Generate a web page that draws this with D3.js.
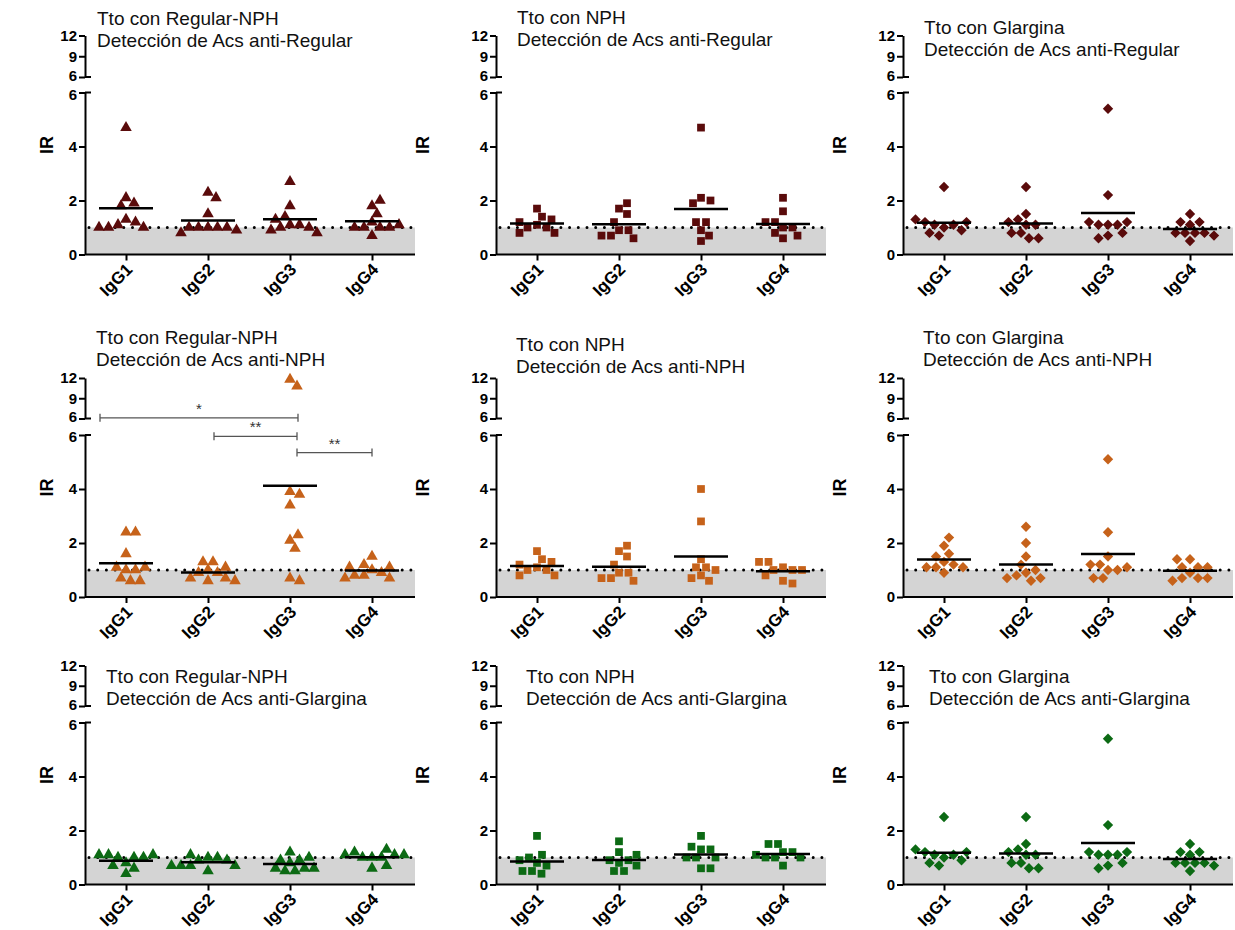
<!DOCTYPE html>
<html>
<head>
<meta charset="utf-8">
<script src="https://cdn.jsdelivr.net/npm/d3@7"></script>
<style>
  body { margin: 0; background: #fff; }
  text { font-family: "Liberation Sans", Arial, sans-serif; }
</style>
</head>
<body>
<script>
var categories = ['IgG1', 'IgG2', 'IgG3', 'IgG4'];
var treatments = ['Tto con Regular-NPH', 'Tto con NPH', 'Tto con Glargina'];
var detections = ['Detección de Acs anti-Regular', 'Detección de Acs anti-NPH', 'Detección de Acs anti-Glargina'];
var upperTicks = [6, 9, 12];
var lowerTicks = [0, 2, 4, 6];
var cutoff = 1;

// IR values, one array per IgG subclass
var antiRegular_RegularNph = [
  [4.7, 1.9, 1.8, 2.1, 1.2, 1.0, 1.0, 1.0, 1.1, 1.3],
  [2.1, 2.3, 1.5, 1.0, 1.0, 1.0, 0.8, 0.9, 1.0, 1.0],
  [2.7, 1.8, 1.4, 1.3, 1.1, 1.0, 0.8, 0.9, 1.0, 1.1],
  [1.8, 2.0, 1.5, 1.0, 1.0, 0.7, 1.2, 1.0, 1.0, 1.1]
];
var antiRegular_Nph = [
  [1.7, 1.3, 1.4, 1.1, 1.0, 1.2, 1.0, 0.8, 0.8],
  [1.7, 1.5, 1.9, 1.2, 0.9, 0.7, 0.6, 0.7, 0.9],
  [4.7, 2.1, 1.9, 2.0, 1.2, 1.2, 0.9, 0.7, 0.5],
  [2.1, 1.6, 1.2, 1.2, 0.8, 1.0, 1.0, 0.6, 0.7]
];
var antiRegular_Glargina = [
  [2.5, 1.1, 1.2, 1.2, 1.3, 0.9, 0.7, 0.8, 1.0, 1.1],
  [2.5, 1.3, 1.5, 1.1, 1.1, 1.2, 0.8, 0.6, 0.6, 0.8],
  [5.4, 2.2, 1.2, 1.1, 1.1, 1.1, 1.2, 0.8, 0.6, 0.7],
  [1.5, 1.2, 1.2, 1.1, 0.8, 0.8, 0.5, 0.7, 0.8, 0.8]
];
var antiNph_RegularNph = [
  [2.4, 2.4, 1.6, 1.1, 1.1, 1.0, 1.0, 0.7, 0.6, 0.6],
  [1.3, 1.3, 1.1, 1.0, 0.9, 0.7, 0.6, 0.6, 0.7, 0.9],
  [11.8, 10.8, 3.8, 3.9, 3.4, 2.1, 2.3, 1.8, 0.6, 0.7],
  [1.5, 1.1, 1.2, 1.1, 0.8, 0.9, 0.7, 0.7, 0.8, 1.0]
];
var antiNph_Nph = [
  [1.7, 1.3, 1.4, 1.1, 1.0, 1.2, 1.0, 0.8, 0.8],
  [1.7, 1.5, 1.9, 1.2, 0.9, 0.7, 0.6, 0.7, 0.9],
  [4.0, 2.8, 1.4, 1.1, 1.1, 0.8, 1.0, 0.6, 0.7],
  [1.3, 1.3, 1.1, 1.0, 1.0, 1.0, 0.8, 0.5, 0.6]
];
var antiNph_Glargina = [
  [2.2, 1.6, 1.9, 1.5, 1.2, 1.3, 1.1, 1.1, 1.1, 0.9],
  [2.6, 2.0, 1.5, 1.2, 0.9, 1.0, 0.7, 0.6, 0.7, 0.8],
  [5.1, 2.4, 1.5, 1.1, 1.2, 1.0, 1.2, 1.0, 0.7, 0.7],
  [1.4, 1.4, 0.9, 1.1, 1.1, 1.1, 0.7, 0.6, 0.7, 0.7]
];
var antiGlargina_RegularNph = [
  [1.1, 1.1, 1.0, 1.0, 1.0, 1.1, 0.7, 0.4, 0.6, 0.8],
  [0.9, 1.0, 1.0, 1.1, 0.9, 0.7, 0.7, 0.5, 0.7, 0.7],
  [1.2, 0.9, 0.6, 0.6, 0.5, 0.5, 0.6, 0.9, 1.0, 0.8],
  [1.0, 1.1, 1.2, 1.1, 1.1, 1.0, 1.3, 1.0, 0.6, 0.7]
];
var antiGlargina_Nph = [
  [1.8, 1.1, 1.0, 0.9, 0.8, 0.7, 0.5, 0.4, 0.5],
  [1.6, 1.2, 1.1, 0.9, 0.9, 0.8, 0.7, 0.5, 0.5],
  [1.8, 1.3, 1.3, 1.4, 1.0, 1.0, 1.0, 0.6, 0.6],
  [1.5, 1.5, 1.2, 1.2, 1.1, 1.0, 1.0, 1.0, 0.7]
];
var antiGlargina_Glargina = [
  [2.5, 1.1, 1.2, 1.2, 1.3, 0.9, 0.7, 0.8, 1.0, 1.1],
  [2.5, 1.3, 1.5, 1.1, 1.1, 1.2, 0.8, 0.6, 0.6, 0.8],
  [5.4, 2.2, 1.2, 1.1, 1.1, 1.1, 1.2, 0.8, 0.6, 0.7],
  [1.5, 1.2, 1.2, 1.1, 0.8, 0.8, 0.5, 0.7, 0.8, 0.8]
];

// significance brackets in the Regular-NPH / anti-NPH panel
var comparisons = [
  {from: 'IgG1', to: 'IgG3', label: '*', level: 6.1},
  {from: 'IgG2', to: 'IgG3', label: '**', level: 5.95},
  {from: 'IgG3', to: 'IgG4', label: '**', level: 5.35}
];

var panels = [
  [antiRegular_RegularNph, antiRegular_Nph, antiRegular_Glargina],
  [antiNph_RegularNph, antiNph_Nph, antiNph_Glargina],
  [antiGlargina_RegularNph, antiGlargina_Nph, antiGlargina_Glargina]
];

// layout
var rows = [
  {top: 35.5, up6: 77, low6: 92.5, zero: 254.5},
  {top: 378, up6: 418.5, low6: 435, zero: 597},
  {top: 665.5, up6: 706, low6: 722.5, zero: 884.5}
];
var axisX = [85, 496, 903];
var irX = [47, 423, 840];
var titlePos = [
  [[97, 18], [517, 17], [924, 27]],
  [[96, 337], [516, 344], [923, 337]],
  [[106, 676], [526, 676], [929, 676]]
];
var rowColors = ['#5a0b0b', '#c6621a', '#0c6a14'];
var shapes = ['triangle', 'square', 'diamond'];
var bracketNudge = [[-26, 8], [6, 7], [7, 0]];
var axisW = 330;

var svg = d3.select('body').append('svg')
    .attr('width', 1235)
    .attr('height', 930);

svg.append('rect').attr('width', 1235).attr('height', 930).attr('fill', '#fff');

function markerPath(shape) {
  if (shape === 'triangle') return d3.symbol().type(d3.symbolTriangle).size(58)();
  return d3.symbol().type(d3.symbolSquare).size(shape === 'square' ? 60 : 54)();
}

// beeswarm: crowded points first, each one pushed sideways to the
// nearest free slot, alternating sides to keep the cloud balanced
function swarm(vals, yOf, r) {
  var pts = vals.map(function(v) { return {v: v, y: yOf(v)}; });
  pts.forEach(function(p) {
    p.n = pts.filter(function(q) { return Math.abs(q.y - p.y) < r; }).length;
  });
  pts.sort(function(a, b) { return b.n - a.n || b.v - a.v; });
  var placed = [];
  pts.forEach(function(p) {
    var free = function(dx) {
      return !placed.some(function(q) {
        return (dx - q.dx) * (dx - q.dx) + (p.y - q.y) * (p.y - q.y) < r * r;
      });
    };
    var lean = d3.sum(placed, function(q) { return Math.abs(q.y - p.y) < r ? q.dx : 0; });
    for (var d = 0; d < 200; d += 0.5) {
      var first = lean > 0 ? -d : d;
      if (free(first)) { p.dx = first; break; }
      if (free(-first)) { p.dx = -first; break; }
    }
    placed.push(p);
  });
  return pts;
}

function drawPanel(ri, ci) {
  var row = rows[ri];
  var data = panels[ri][ci];
  var ax = axisX[ci];
  var g = svg.append('g').attr('transform', 'translate(' + ax + ',0)');

  var x = d3.scalePoint().domain(categories).range([41, 287]);
  var yLow = d3.scaleLinear().domain([0, 6]).range([row.zero, row.low6]);
  var yUp = d3.scaleLinear().domain([6, 12]).range([row.up6, row.top]);
  var y = function(v) { return v > 6 ? yUp(v) : yLow(v); };

  // grey band below the cutoff
  g.append('rect')
      .attr('x', 0).attr('y', yLow(cutoff))
      .attr('width', axisW).attr('height', yLow(0) - yLow(cutoff))
      .attr('fill', '#d4d4d4');

  g.append('line')
      .attr('x1', 4).attr('x2', axisW)
      .attr('y1', yLow(cutoff)).attr('y2', yLow(cutoff))
      .attr('stroke', '#000').attr('stroke-width', 3)
      .attr('stroke-linecap', 'round')
      .attr('stroke-dasharray', '0 8.7');

  // points
  data.forEach(function(vals, k) {
    var cx = x(categories[k]);
    var pts = swarm(vals, y, 9.5);
    g.selectAll(null)
        .data(pts)
      .enter().append('path')
        .attr('d', markerPath(shapes[ci]))
        .attr('transform', function(d) {
          return 'translate(' + (cx + d.dx) + ',' + d.y + ')' + (shapes[ci] === 'diamond' ? ' rotate(45)' : '');
        })
        .attr('fill', rowColors[ri]);

    var m = d3.mean(vals);
    g.append('line')
        .attr('x1', cx - 27).attr('x2', cx + 27)
        .attr('y1', y(m)).attr('y2', y(m))
        .attr('stroke', '#000').attr('stroke-width', 2.5);
  });

  // axes
  var fmt = d3.format('d');
  var axUp = g.append('g').attr('class', 'axis')
      .call(d3.axisLeft(yUp).tickValues(upperTicks).tickFormat(fmt).tickSize(6).tickSizeOuter(0).tickPadding(2));
  var axLow = g.append('g').attr('class', 'axis')
      .call(d3.axisLeft(yLow).tickValues(lowerTicks).tickFormat(fmt).tickSize(6).tickSizeOuter(0).tickPadding(2));
  [[axUp, row.up6], [axLow, row.low6]].forEach(function(a) {
    a[0].append('line').attr('x1', 0).attr('x2', 6).attr('y1', a[1]).attr('y2', a[1])
        .attr('stroke', '#000').attr('stroke-width', 2);
  });

  var axBottom = g.append('g').attr('class', 'axis xaxis')
      .attr('transform', 'translate(0,' + row.zero + ')')
      .call(d3.axisBottom(x).tickSize(6).tickSizeOuter(0));
  axBottom.select('.domain').attr('d', 'M0,0H' + axisW);

  g.selectAll('.axis .domain').attr('stroke', '#000').attr('stroke-width', 2);
  g.selectAll('.axis .tick line').attr('stroke', '#000').attr('stroke-width', 2);
  g.selectAll('.axis text')
      .attr('font-family', '"Liberation Sans", Arial, sans-serif')
      .attr('font-size', 15).attr('font-weight', 'bold').attr('fill', '#000');
  // keep the two "6" labels at the break apart
  axUp.selectAll('.tick text').filter(function(d) { return d === 6; }).attr('dy', '0.2em');
  axLow.selectAll('.tick text').filter(function(d) { return d === 6; }).attr('dy', '0.45em');
  axBottom.selectAll('text')
      .attr('text-anchor', 'end')
      .attr('dy', null).attr('y', null)
      .attr('font-size', 17)
      .attr('transform', 'translate(7,16) rotate(-45)');

  // IR label
  svg.append('text')
      .attr('transform', 'translate(' + irX[ci] + ',' + ((row.top + row.zero) / 2) + ') rotate(-90)')
      .attr('text-anchor', 'middle').attr('dy', '0.35em')
      .attr('font-size', 18).attr('font-weight', 'bold')
      .text('IR');

  // title
  var tp = titlePos[ri][ci];
  var t = svg.append('text').attr('font-size', 19).attr('fill', '#111');
  t.append('tspan').attr('x', tp[0]).attr('y', tp[1] + 7).text(treatments[ci]);
  t.append('tspan').attr('x', tp[0]).attr('y', tp[1] + 29).text(detections[ri]);

  if (ri === 1 && ci === 0) {
    comparisons.forEach(function(c, i) {
      var x1 = x(c.from) + bracketNudge[i][0];
      var x2 = x(c.to) + bracketNudge[i][1];
      var yy = y(c.level);
      var b = g.append('g').attr('stroke', '#555').attr('stroke-width', 1.3);
      b.append('line').attr('x1', x1).attr('x2', x2).attr('y1', yy).attr('y2', yy);
      b.append('line').attr('x1', x1).attr('x2', x1).attr('y1', yy - 4).attr('y2', yy + 4);
      b.append('line').attr('x1', x2).attr('x2', x2).attr('y1', yy - 4).attr('y2', yy + 4);
      g.append('text')
          .attr('x', (x1 + x2) / 2).attr('y', yy - 4)
          .attr('text-anchor', 'middle')
          .attr('font-size', 15).attr('fill', '#333')
          .text(c.label);
    });
  }
}

for (var ri = 0; ri < 3; ri++) {
  for (var ci = 0; ci < 3; ci++) drawPanel(ri, ci);
}
</script>
</body>
</html>
